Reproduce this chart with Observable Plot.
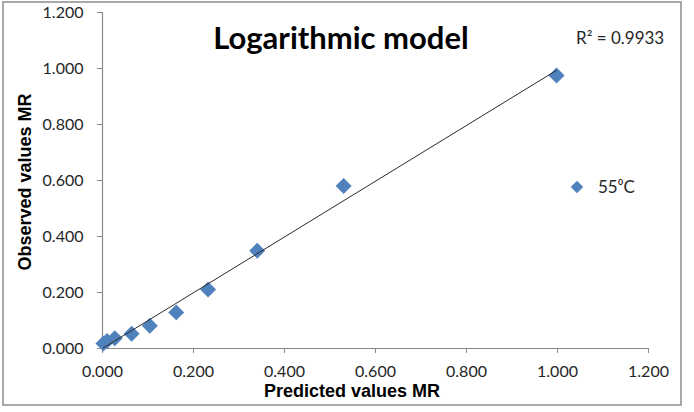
<!DOCTYPE html>
<html><head><meta charset="utf-8">
<script src="https://cdn.jsdelivr.net/npm/d3@7"></script>
<script src="https://cdn.jsdelivr.net/npm/@observablehq/plot@0.6"></script>
<style>
html,body{margin:0;padding:0;background:#fff;}
#wrap{position:relative;width:694px;height:412px;overflow:hidden;}
#wrap > svg{position:absolute;left:0;top:0;}
#overlay{pointer-events:none;}
g[aria-label="x-axis tick"] path, g[aria-label="y-axis tick"] path{stroke:#8a8a8a;}
</style></head><body><div id="wrap"></div>
<script>
// Data
const predicted = [0.002, 0.010, 0.027, 0.064, 0.104, 0.162, 0.232, 0.340, 0.530, 0.998];
const observed  = [0.018, 0.027, 0.037, 0.053, 0.081, 0.129, 0.211, 0.349, 0.580, 0.975];
const xTicks = [0, 0.2, 0.4, 0.6, 0.8, 1.0, 1.2];
const yTicks = [0, 0.2, 0.4, 0.6, 0.8, 1.0, 1.2];
const titleText = "Logarithmic model";
const xTitle = "Predicted values MR";
const yTitle = "Observed values MR";
const r2Text = "R² = 0.9933";
const seriesName = "55⁰C";

const data = predicted.map((p, i) => ({p, o: observed[i]}));
const fmt = d3.format(".3f");
const blue = "#4F81BD";

const chart = Plot.plot({
  width: 694, height: 412,
  marginLeft: 102, marginRight: 46, marginTop: 12, marginBottom: 64,
  style: {fontFamily: "Lato, sans-serif", fontSize: "16px", color: "#262626", background: "transparent"},
  x: {domain: [0, 1.2], label: null},
  y: {domain: [0, 1.2], label: null},
  marks: [
    Plot.ruleX([0], {stroke: "#8a8a8a", strokeWidth: 1.2}),
    Plot.ruleY([0], {stroke: "#8a8a8a", strokeWidth: 1.2}),
    Plot.axisX({ticks: xTicks, tickFormat: fmt, tickSize: 5, tickPadding: 12, label: null, stroke: "#8a8a8a", fill: "#262626"}),
    Plot.axisY({ticks: yTicks, tickFormat: fmt, tickSize: 5, tickPadding: 14, label: null, stroke: "#8a8a8a", fill: "#262626"}),
    Plot.dot(data, {x: "p", y: "o", symbol: "diamond2", r: 7.2, fill: blue, stroke: "none"}),
    Plot.linearRegressionY(data, {x: "p", y: "o", stroke: "#2a2a2a", strokeWidth: 1, ci: 0})
  ]
});
const wrap = document.getElementById("wrap");
wrap.appendChild(chart);

// Overlay: border, title, axis titles, R² annotation, legend
const ov = d3.select(wrap).append("svg")
  .attr("id", "overlay").attr("width", 694).attr("height", 412);
ov.append("rect").attr("x", 3).attr("y", 2).attr("width", 678).attr("height", 403)
  .attr("fill", "none").attr("stroke", "#8c8c8c").attr("stroke-width", 1.5);
ov.append("text").text(titleText)
  .attr("x", 341).attr("y", 49).attr("text-anchor", "middle")
  .attr("font-family", "Lato, sans-serif").attr("font-weight", "bold").attr("font-size", 31).attr("fill", "#000");
ov.append("text").text(xTitle)
  .attr("x", 352).attr("y", 397).attr("text-anchor", "middle")
  .attr("font-family", "'Liberation Sans', Arial, sans-serif").attr("font-weight", "bold").attr("font-size", 18).attr("fill", "#000");
ov.append("text").text(yTitle)
  .attr("transform", "translate(31,182) rotate(-90)").attr("text-anchor", "middle")
  .attr("font-family", "'Liberation Sans', Arial, sans-serif").attr("font-weight", "bold").attr("font-size", 18).attr("fill", "#000");
ov.append("text").text(r2Text)
  .attr("x", 576).attr("y", 44)
  .attr("font-family", "Lato, sans-serif").attr("font-size", 17).attr("fill", "#262626");
ov.append("path").attr("d", d3.symbol(d3.symbolDiamond2, 100)())
  .attr("transform", "translate(577,187)").attr("fill", blue);
ov.append("text").text(seriesName)
  .attr("x", 598).attr("y", 193)
  .attr("font-family", "Lato, sans-serif").attr("font-size", 17).attr("fill", "#262626");
</script></body></html>
